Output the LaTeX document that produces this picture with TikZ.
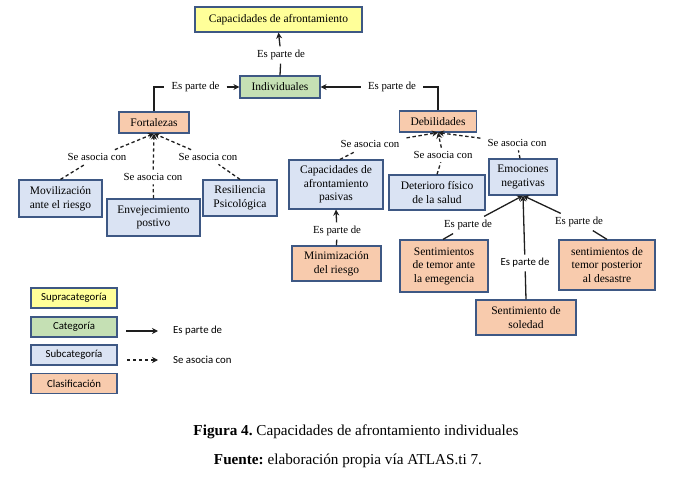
\documentclass[tikz,border=0pt]{standalone}
\usepackage{fontspec}
\setmainfont{Liberation Serif}
\newfontfamily\calib{Carlito}
\usetikzlibrary{arrows.meta}
\definecolor{bord}{RGB}{62,88,132}
\definecolor{cyel}{RGB}{255,255,153}
\definecolor{cgrn}{RGB}{197,224,180}
\definecolor{cblu}{RGB}{218,227,243}
\definecolor{corg}{RGB}{248,203,173}
\definecolor{lnk}{RGB}{30,30,30}
\frenchspacing
\begin{document}
\begin{tikzpicture}[x=1pt,y=-1pt,
  box/.style={draw=bord, line width=1.2pt, align=center, inner sep=1pt,
    font=\fontsize{11.5}{13.5}\selectfont},
  legbox/.style={draw=bord, line width=1.2pt, align=center, inner sep=1pt,
    minimum width=86pt, minimum height=20pt, font=\calib\fontsize{10.8}{12}\selectfont},
  lab/.style={inner xsep=7pt, inner ysep=3.5pt, font=\fontsize{10.8}{12}\selectfont},
  conn/.style={draw=lnk, line width=1.3pt},
  tip/.style={-{Stealth[length=6pt,width=6pt]}},
  dsh/.style={dash pattern=on 3.4pt off 2.6pt}
]
\useasboundingbox (0,0) rectangle (680,478);

% boxes
\node[box, fill=cyel, minimum width=167pt, minimum height=25pt] (cap) at (278.5,19.5) {Capacidades de afrontamiento};
\node[box, fill=cgrn, minimum width=80pt, minimum height=22pt] (ind) at (280,87) {Individuales};
\node[box, fill=corg, minimum width=70pt, minimum height=21pt] (fort) at (154,122.5) {Fortalezas};
\node[box, fill=corg, minimum width=77pt, minimum height=21pt] (deb) at (438,121.5) {Debilidades};

\node[box, fill=cblu, minimum width=83pt, minimum height=37pt] (movil) at (60.5,198.5) {Movilización\\ante el riesgo};
\node[box, fill=cblu, minimum width=93pt, minimum height=37pt] (envej) at (153.5,217.5) {Envejecimiento\\postivo};
\node[box, fill=cblu, minimum width=74pt, minimum height=36pt] (resil) at (240,198) {Resiliencia\\Psicológica};

\node[box, fill=cblu, minimum width=94pt, minimum height=49pt] (cappas) at (336,184.5) {Capacidades de\\afrontamiento\\pasivas};
\node[box, fill=cblu, minimum width=96pt, minimum height=35pt] (deter) at (437,192.5) {Deterioro físico\\de la salud};
\node[box, fill=cblu, minimum width=68pt, minimum height=36pt] (emoc) at (523,177) {Emociones\\negativas};

\node[box, fill=corg, minimum width=89pt, minimum height=35pt] (minim) at (336.5,263.5) {Minimización\\del riesgo};
\node[box, fill=corg, minimum width=88pt, minimum height=52pt] (temor) at (444,266) {Sentimientos\\de temor ante\\la emegencia};
\node[box, fill=corg, minimum width=100pt, minimum height=35pt] (soled) at (526,317.5) {Sentimiento de\\soledad};
\node[box, fill=corg, minimum width=96pt, minimum height=50pt] (poster) at (607,265) {sentimientos de\\temor posterior\\al desastre};

% labels
\node[lab] (lTop) at (281,55) {Es parte de};
\node[lab] (lFort) at (195.5,87) {Es parte de};
\node[lab] (lDeb) at (392,87) {Es parte de};

\node[lab] (lMov) at (97,157) {Se asocia con};
\node[lab] (lEnv) at (153,177) {Se asocia con};
\node[lab] (lRes) at (208,157) {Se asocia con};

\node[lab] (lPas) at (370,144) {Se asocia con};
\node[lab] (lDet) at (443,155) {Se asocia con};
\node[lab] (lEmo) at (517,143) {Se asocia con};

\node[lab] (lMin) at (337,231) {Es parte de};
\node[lab] (lTem) at (468,225) {Es parte de};
\node[lab, font=\calib\fontsize{10.8}{12}\selectfont] (lSol) at (525,263) {Es parte de};
\node[lab] (lPos) at (579,222) {Es parte de};

% solid connectors
\draw[conn] (ind.north) -- (lTop);
\draw[conn, tip] (lTop) -- (cap.south);
\draw[conn] (fort.north) |- (lFort.west);
\draw[conn, tip] (lFort.east) -- (ind.west);
\draw[conn] (deb.north) |- (lDeb.east);
\draw[conn, tip] (lDeb.west) -- (ind.east);

\draw[conn] (minim.north) -- (lMin);
\draw[conn, tip] (lMin) -- (cappas.south);
\draw[conn] ([xshift=-1pt]temor.north) -- (lTem);
\draw[conn, tip] (lTem) -- (emoc.south);
\draw[conn] (soled.north) -- (lSol);
\draw[conn, tip] (lSol) -- (emoc.south);
\draw[conn] (poster.north) -- (lPos);
\draw[conn, tip] (lPos) -- (emoc.south);

% dashed connectors
\draw[conn, dsh] (movil.north) -- (lMov);
\draw[conn, dsh, tip] (lMov) -- (fort.south);
\draw[conn, dsh] (envej.north) -- (lEnv);
\draw[conn, dsh, tip] (lEnv) -- (fort.south);
\draw[conn, dsh] (resil.north) -- (lRes);
\draw[conn, dsh, tip] (lRes) -- (fort.south);

\draw[conn, dsh] ([xshift=4pt]cappas.north) -- (lPas);
\draw[conn, dsh, tip] (lPas) -- (deb.south);
\draw[conn, dsh] (deter.north) -- (lDet);
\draw[conn, dsh, tip] (lDet) -- (deb.south);
\draw[conn, dsh] ([xshift=-3pt]emoc.north) -- (lEmo);
\draw[conn, dsh, tip] (lEmo) -- (deb.south);

% legend
\node[legbox, fill=cyel] (gSup) at (74,298) {Supracategoría};
\node[legbox, fill=cgrn] (gCat) at (74,327) {Categoría};
\node[legbox, fill=cblu] (gSub) at (74,355) {Subcategoría};
\node[legbox, fill=corg] (gCla) at (74,383.5) {Clasificación};
\coordinate (a1) at (126,331);
\coordinate (a2) at (158,331);
\coordinate (b1) at (127,360);
\coordinate (b2) at (158,360);
\draw[conn, tip] (a1) -- (a2);
\draw[conn, dsh, tip] (b1) -- (b2);
\node[anchor=west, inner sep=0pt, font=\calib\fontsize{10.8}{12}\selectfont] (gEs) at (173,331) {Es parte de};
\node[anchor=west, inner sep=0pt, font=\calib\fontsize{10.8}{12}\selectfont] (gSe) at (173,360) {Se asocia con};

% caption
\node[font=\fontsize{15.2}{18}\selectfont, inner sep=0pt] (cap1) at (356,432) {\textbf{Figura 4.} Capacidades de afrontamiento individuales};
\node[font=\fontsize{15.2}{18}\selectfont, inner sep=0pt] (cap2) at (348,461) {\textbf{Fuente:} elaboración propia vía ATLAS.ti 7.};
\end{tikzpicture}
\end{document}
